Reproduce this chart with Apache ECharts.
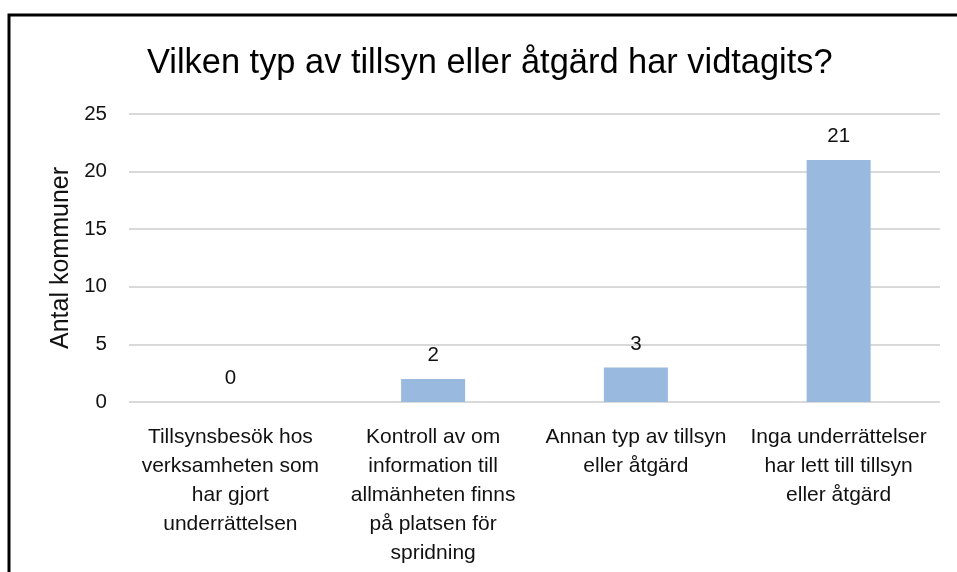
<!DOCTYPE html>
<html>
<head>
<meta charset="utf-8">
<script src="https://cdn.jsdelivr.net/npm/echarts@6/dist/echarts.min.js"></script>
<style>
  html, body { margin: 0; padding: 0; background: #fff; }
  #chart { width: 957px; height: 572px; }
</style>
</head>
<body>
<div id="chart"></div>
<script>
// data
var titleText = 'Vilken typ av tillsyn eller åtgärd har vidtagits?'
var yAxisName = 'Antal kommuner'
var categories = [
  'Tillsynsbesök hos\nverksamheten som\nhar gjort\nunderrättelsen',
  'Kontroll av om\ninformation till\nallmänheten finns\npå platsen för\nspridning',
  'Annan typ av tillsyn\neller åtgärd',
  'Inga underrättelser\nhar lett till tillsyn\neller åtgärd'
]
var counts = [0, 2, 3, 21]
var yTicks = { min: 0, max: 25, interval: 5 }

var font = '"Liberation Sans", Arial, sans-serif'
var myChart = echarts.init(document.getElementById('chart'))
var option = {
  backgroundColor: '#fff',
  animation: false,
  textStyle: { fontFamily: font },
  title: {
    text: titleText,
    left: 147,
    top: 47,
    padding: 0,
    textStyle: { fontFamily: font, fontSize: 34.4, fontWeight: 'normal', color: '#000' }
  },
  graphic: [{
    type: 'polyline',
    shape: { points: [[9, 572], [9, 15], [957, 15]] },
    style: { stroke: '#000', lineWidth: 3, fill: null }
  }],
  grid: { left: 129, right: 17, top: 114, bottom: 170, containLabel: false },
  xAxis: {
    type: 'category',
    data: categories,
    axisLine: { show: false },
    axisTick: { show: false },
    axisLabel: {
      interval: 0,
      margin: 21,
      fontSize: 21,
      lineHeight: 29,
      color: '#111',
      fontFamily: font
    }
  },
  yAxis: {
    type: 'value',
    min: yTicks.min,
    max: yTicks.max,
    interval: yTicks.interval,
    name: yAxisName,
    nameLocation: 'middle',
    nameGap: 55,
    nameTextStyle: { fontSize: 25, color: '#111', fontFamily: font },
    axisLine: { show: false },
    axisTick: { show: false },
    axisLabel: { fontSize: 20.5, margin: 22, color: '#111', fontFamily: font },
    splitLine: { lineStyle: { color: '#d9d9d9', width: 2 } }
  },
  series: [{
    type: 'bar',
    data: counts,
    barWidth: 64,
    itemStyle: { color: '#99b9de' },
    label: {
      show: true,
      position: 'top',
      distance: 13,
      fontSize: 20.5,
      color: '#111',
      fontFamily: font
    }
  }]
}
myChart.setOption(option)
</script>
</body>
</html>
